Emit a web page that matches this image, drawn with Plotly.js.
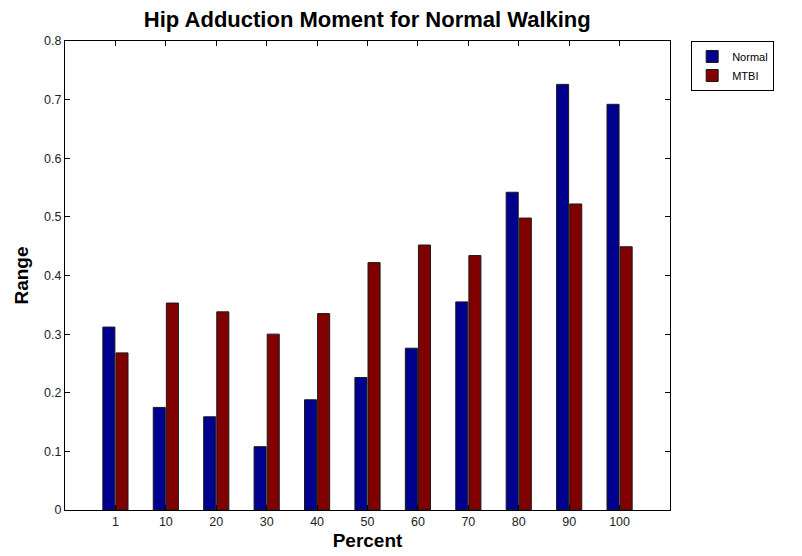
<!DOCTYPE html>
<html>
<head>
<meta charset="utf-8">
<script src="https://cdn.plot.ly/plotly-3.0.1.min.js"></script>
<style>
  html, body { margin: 0; padding: 0; background: #fff; }
  #wykres { width: 802px; height: 556px; }
</style>
</head>
<body>
<div id="wykres"></div>
<script>
// --- dane ---
const kategorie = ["1", "10", "20", "30", "40", "50", "60", "70", "80", "90", "100"];
const pozycje = [1, 2, 3, 4, 5, 6, 7, 8, 9, 10, 11];
const normal = [0.312, 0.175, 0.159, 0.108, 0.188, 0.226, 0.276, 0.355, 0.542, 0.726, 0.692];
const mtbi = [0.268, 0.353, 0.338, 0.300, 0.335, 0.422, 0.452, 0.434, 0.498, 0.522, 0.449];
const yTicks = [0, 0.1, 0.2, 0.3, 0.4, 0.5, 0.6, 0.7, 0.8];

const FONT = "Liberation Sans, Arial, sans-serif";

function seria(nazwa, wartosci, kolor) {
    return {
        type: "bar",
        name: nazwa,
        x: pozycje,
        y: wartosci,
        marker: {
            color: kolor,
            line: { color: "#1a1a1a", width: 1 }
        },
        hoverinfo: "x+y"
    };
}

const data = [
    seria("Normal", normal, "#00008f"),
    seria("MTBI", mtbi, "#800000")
];

const layout = {
    width: 802,
    height: 556,
    paper_bgcolor: "#ffffff",
    plot_bgcolor: "#ffffff",
    font: { family: FONT, color: "#222222", size: 12.5 },
    margin: { l: 65, r: 132, t: 41, b: 46 },
    barmode: "group",
    bargap: 0.48,
    bargroupgap: 0.08,
    title: {
        text: "<b>Hip Adduction Moment for Normal Walking</b>",
        font: { family: FONT, size: 22, color: "#000000" },
        x: 0.458,
        xanchor: "center",
        y: 0.979,
        yanchor: "top"
    },
    xaxis: {
        range: [0, 12],
        tickvals: pozycje,
        ticktext: kategorie,
        ticks: "inside",
        ticklen: 5,
        tickcolor: "#000000",
        showline: true,
        linecolor: "#000000",
        linewidth: 1,
        mirror: "ticks",
        showgrid: false,
        zeroline: false,
        tickfont: { family: FONT, size: 12.5, color: "#222222" },
        title: {
            text: "<b>Percent</b>",
            font: { family: FONT, size: 19, color: "#000000" },
            standoff: 5
        }
    },
    yaxis: {
        range: [0, 0.8],
        tickvals: yTicks,
        ticktext: yTicks.map(v => String(v)),
        ticks: "inside",
        ticklen: 5,
        tickcolor: "#000000",
        showline: true,
        linecolor: "#000000",
        linewidth: 1,
        mirror: "ticks",
        showgrid: false,
        zeroline: false,
        tickfont: { family: FONT, size: 12.5, color: "#222222" },
        title: {
            text: "<b>Range</b>",
            font: { family: FONT, size: 19, color: "#000000" },
            standoff: 10
        }
    },
    legend: {
        x: 1.035,
        xanchor: "left",
        y: 1,
        yanchor: "top",
        bgcolor: "#ffffff",
        bordercolor: "#000000",
        borderwidth: 1,
        font: { family: FONT, size: 11, color: "#000000" },
        tracegroupgap: 0,
        itemwidth: 30
    },
    showlegend: true
};

Plotly.newPlot("wykres", data, layout, { displayModeBar: false, responsive: false });
</script>
</body>
</html>
